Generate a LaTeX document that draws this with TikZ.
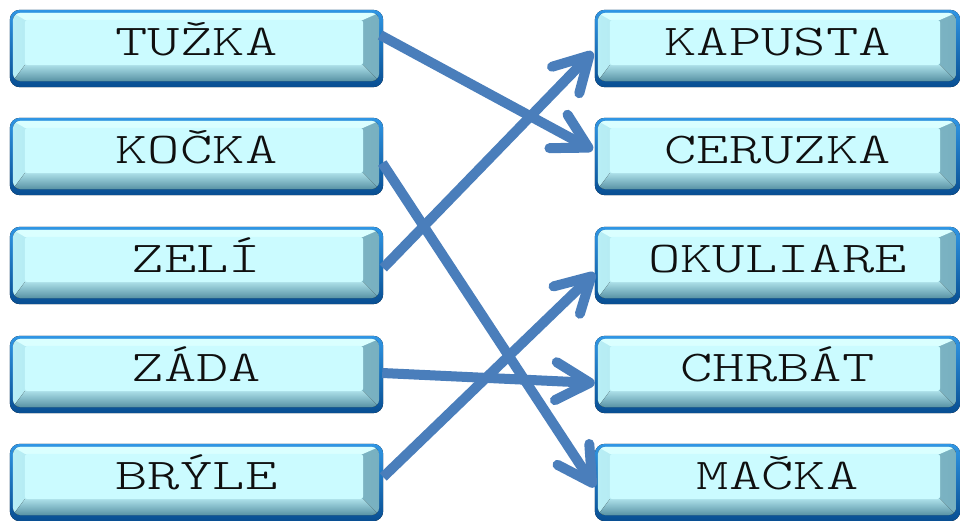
\documentclass[tikz,border=0pt]{standalone}
\usepackage{fontspec}
\usepackage{graphicx}
\usetikzlibrary{arrows.meta,calc,backgrounds}
\definecolor{arrowblue}{RGB}{74,126,187}
\definecolor{rimtop}{RGB}{48,150,228}
\definecolor{rimbot}{RGB}{8,78,146}
\definecolor{bevleft}{RGB}{184,238,245}
\definecolor{bevright}{RGB}{120,176,192}
\definecolor{bevtop}{RGB}{218,255,255}
\definecolor{bevbtop}{RGB}{170,222,231}
\definecolor{bevbbot}{RGB}{88,146,164}
\definecolor{facecol}{RGB}{203,251,255}
\definecolor{txtcol}{RGB}{15,15,15}
\newcommand\lbl[1]{\scalebox{1.4}[1]{#1}}
\newcommand\boxdeco[1]{%
  \begin{scope}[on background layer]
    \fill[rounded corners=10pt, top color=rimtop, bottom color=rimbot]
      (#1.north west) rectangle (#1.south east);
    \begin{scope}
      \clip[rounded corners=8pt] ($(#1.north west)+(3,-3)$) rectangle ($(#1.south east)+(-4,6)$);
      \fill[left color=bevleft, right color=bevright]
        ($(#1.north west)+(3,-3)$) rectangle ($(#1.south east)+(-4,6)$);
      \fill[bevtop] ($(#1.north west)+(3,-3)$) -- ($(#1.north west)+(15,-10)$)
        -- ($(#1.north east)+(-20,-10)$) -- ($(#1.north east)+(-4,-3)$) -- cycle;
      \fill[top color=bevbtop, bottom color=bevbbot]
        ($(#1.south west)+(3,6)$) -- ($(#1.south west)+(15,22)$)
        -- ($(#1.south east)+(-20,22)$) -- ($(#1.south east)+(-4,6)$) -- cycle;
    \end{scope}
    \fill[facecol, rounded corners=3pt]
      ($(#1.north west)+(15,-10)$) rectangle ($(#1.south east)+(-20,22)$);
  \end{scope}}
\tikzset{
  lbox/.style={minimum width=373pt, minimum height=77pt, inner sep=0pt,
    text height=14pt, text depth=0pt, text=txtcol,
    font=\fontsize{44}{44}\ttfamily\fontseries{l}\selectfont},
  rbox/.style={lbox, minimum width=365pt},
  link/.style={draw=arrowblue, line width=10pt,
    -{Straight Barb[length=34pt,width=38pt,round]}}
}
\begin{document}
\begin{tikzpicture}[x=1pt,y=1pt]
\useasboundingbox (0,0) rectangle (960,-521);
% left column
\node[lbox] (tuzka) at (196.5,-48.5) {\lbl{TUŽKA}};
\node[lbox] (kocka) at (196.5,-156.5) {\lbl{KOČKA}};
\node[lbox] (zeli)  at (196.5,-265.5) {\lbl{ZELÍ}};
\node[lbox] (zada)  at (196.5,-374.5) {\lbl{ZÁDA}};
\node[lbox] (bryle) at (196.5,-482.5) {\lbl{BRÝLE}};
% right column
\node[rbox] (kapusta)  at (777.5,-48.5) {\lbl{KAPUSTA}};
\node[rbox] (ceruzka)  at (777.5,-156.5) {\lbl{CERUZKA}};
\node[rbox] (okuliare) at (777.5,-265.5) {\lbl{OKULIARE}};
\node[rbox] (chrbat)   at (777.5,-374.5) {\lbl{CHRBÁT}};
\node[rbox] (macka)    at (777.5,-482.5) {\lbl{MAČKA}};
\boxdeco{tuzka}\boxdeco{kocka}\boxdeco{zeli}\boxdeco{zada}\boxdeco{bryle}
\boxdeco{kapusta}\boxdeco{ceruzka}\boxdeco{okuliare}\boxdeco{chrbat}\boxdeco{macka}
% connectors
\draw[link] ($(tuzka.east)+(-3,13.5)$) -- ($(ceruzka.west)+(-2,6.5)$);
\draw[link] ($(kocka.east)+(-1,-6.5)$) -- ($(macka.west)+(0,-4.5)$);
\draw[link] ($(zeli.east)+(0,-2.5)$) -- ($(kapusta.west)+(-2,-3.5)$);
\draw[link] ($(zada.east)+(-1,1.5)$) -- ($(chrbat.west)+(0,-8.5)$);
\draw[link] ($(bryle.east)+(0,5.5)$) -- ($(okuliare.west)+(0,-7.5)$);
\end{tikzpicture}
\end{document}
